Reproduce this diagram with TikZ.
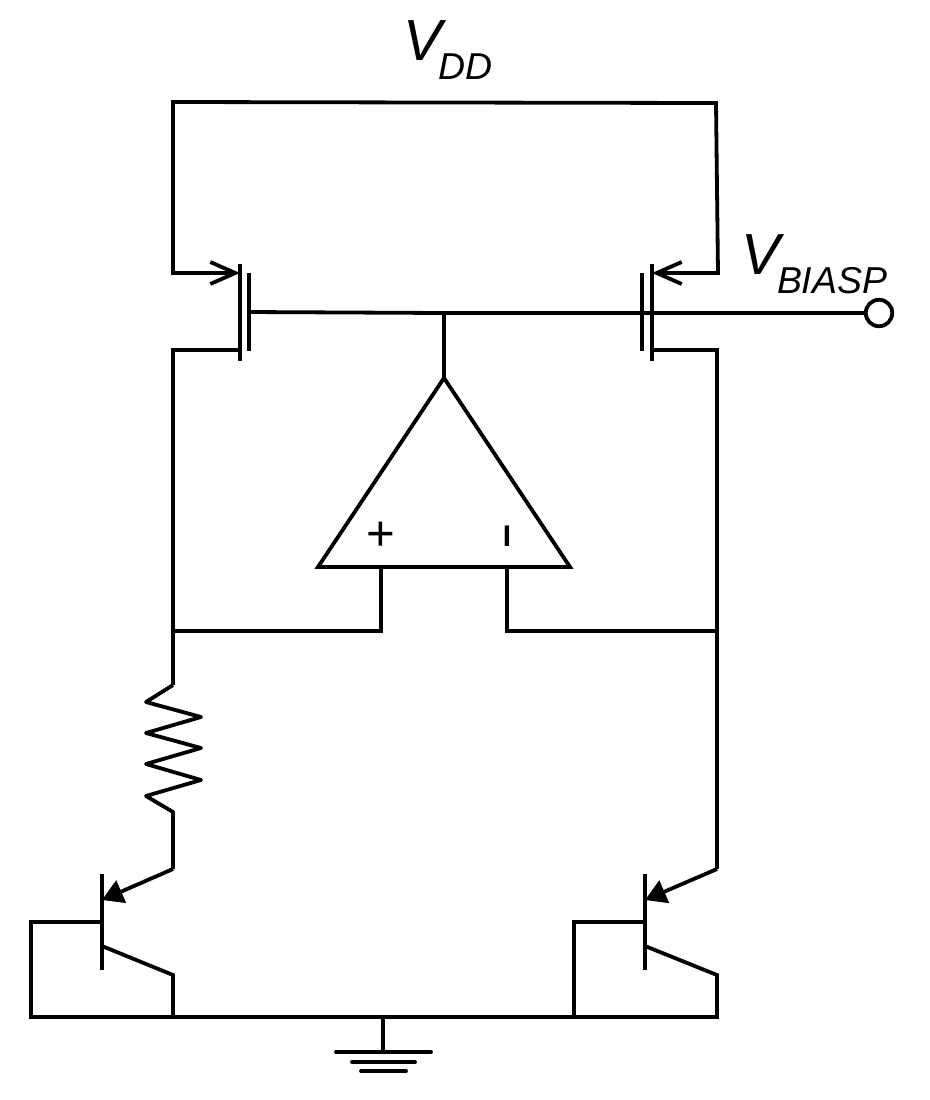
\documentclass[tikz,border=0pt]{standalone}
\usepackage{fontspec}
\setmainfont{Liberation Sans}
\usetikzlibrary{arrows.meta}

\begin{document}
\begin{tikzpicture}[x=0.02cm, y=-0.02cm, line width=0.076cm, line join=miter,
    every node/.style={inner sep=0pt, outer sep=0pt},
    openarrow/.style={line cap=rect, -{Straight Barb[length=0.5cm, width=0.44cm, line width=0.076cm]}},
    fullarrow/.style={-{Triangle[length=0.42cm, width=0.48cm]}},
    biglabel/.style={font=\fontsize{33}{33}\selectfont\itshape, anchor=base west},
    sublabel/.style={font=\fontsize{21.3}{21.3}\selectfont\itshape, anchor=base west},
    signlabel/.style={font=\fontsize{#1}{#1}\selectfont}]
  \useasboundingbox (0,0) rectangle (930,1100);
  % Supply rail and PMOS pair
  \coordinate (railL) at (173,102);
  \coordinate (railR) at (716,103);
  \coordinate (srcL) at (173,273);
  \coordinate (srcR) at (718,273);
  \coordinate (chanLtop) at (240,264);
  \coordinate (chanLbot) at (240,361);
  \coordinate (gateLtop) at (249,273);
  \coordinate (gateLbot) at (249,351);
  \coordinate (chanRtop) at (652,264);
  \coordinate (chanRbot) at (652,361);
  \coordinate (gateRtop) at (642,273);
  \coordinate (gateRbot) at (642,351);
  \coordinate (drainL) at (173,350);
  \coordinate (drainR) at (717,350);
  \coordinate (gateL) at (249,312);
  \coordinate (gateMid) at (444,313);
  \node[draw, circle, fill=white, minimum size=0.53cm] (vbiasp) at (879,313) {};
  % Op amp
  \coordinate (apex) at (444,378);
  \coordinate (baseL) at (318,567);
  \coordinate (baseR) at (570,567);
  \coordinate (inP) at (381,567);
  \coordinate (inN) at (507,567);
  \coordinate (tapL) at (173,631);
  \coordinate (tapR) at (717,631);
  \coordinate (inPlow) at (381,631);
  \coordinate (inNlow) at (507,631);
  % Bipolar transistors
  \coordinate (resTop) at (173,685);
  \coordinate (resBot) at (173,812);
  \coordinate (emitL) at (173,869);
  \coordinate (emitR) at (717,869);
  \coordinate (barLtop) at (102,874);
  \coordinate (barLbot) at (102,970);
  \coordinate (barRtop) at (645,874);
  \coordinate (barRbot) at (645,970);
  \coordinate (hitL) at (102,900);
  \coordinate (hitR) at (645,900);
  \coordinate (baseLa) at (102,922);
  \coordinate (baseLb) at (31,922);
  \coordinate (baseRa) at (645,922);
  \coordinate (baseRb) at (574,922);
  \coordinate (colLa) at (102,946);
  \coordinate (colLb) at (173,975);
  \coordinate (colRa) at (645,946);
  \coordinate (colRb) at (717,975);
  \coordinate (gndA) at (31,1017);
  \coordinate (gndL) at (173,1017);
  \coordinate (gndM) at (383,1018);
  \coordinate (gndB) at (574,1017);
  \coordinate (gndR) at (717,1017);
  \coordinate (earth) at (383,1052);

  \draw (chanLtop) -- (chanLbot);
  \draw (gateLtop) -- (gateLbot);
  \draw (chanRtop) -- (chanRbot);
  \draw (gateRtop) -- (gateRbot);
  \draw[openarrow] (railR) -- (railL) -- (srcL) -- (chanLtop |- srcL);
  \draw[openarrow] (railR) -- (srcR) -- (chanRtop |- srcR);
  \draw (chanLbot |- drainL) -- (drainL) -- (tapL) -- (resTop);
  \draw (chanRbot |- drainR) -- (drainR) -- (tapR) -- (emitR);
  \draw (gateL) -- (gateMid) -- (vbiasp);
  \draw (gateMid) -- (apex);
  \draw (apex) -- (baseL) -- (baseR) -- cycle;
  \draw (inP) -- (inPlow) -- (tapL);
  \draw (inN) -- (inNlow) -- (tapR);
  \node[signlabel=28] (plus) at (381,536) {+};
  \node[signlabel=17] (minus) at (507,536) {\bfseries I};

  % Resistor
  \draw[line join=round] (resTop) -- (146,702) -- (201,717) -- (146,733) -- (201,748) -- (146,764) -- (201,780) -- (146,796) -- (resBot) -- (emitL);

  \draw (barLtop) -- (barLbot);
  \draw (barRtop) -- (barRbot);
  \draw[fullarrow] (emitL) -- (hitL);
  \draw[fullarrow] (emitR) -- (hitR);
  \draw (baseLa) -- (baseLb) -- (gndA) -- (gndR) -- (colRb) -- (colRa);
  \draw (colLa) -- (colLb) -- (gndL);
  \draw (baseRa) -- (baseRb) -- (gndB);

  % Ground
  \draw (gndM) -- (earth);
  \draw[line cap=round] (336,1052) -- (431,1052);
  \draw[line cap=round] (352,1062) -- (415,1062);
  \draw[line cap=round] (361,1071) -- (406,1071);

  % Labels
  \node[biglabel] (vdd) at (403,60) {V};
  \node[sublabel] (vddsub) at (438,79) {DD};
  \node[biglabel] (vb) at (741,274) {V};
  \node[sublabel] (vbsub) at (777,293) {BIASP};
\end{tikzpicture}
\end{document}
